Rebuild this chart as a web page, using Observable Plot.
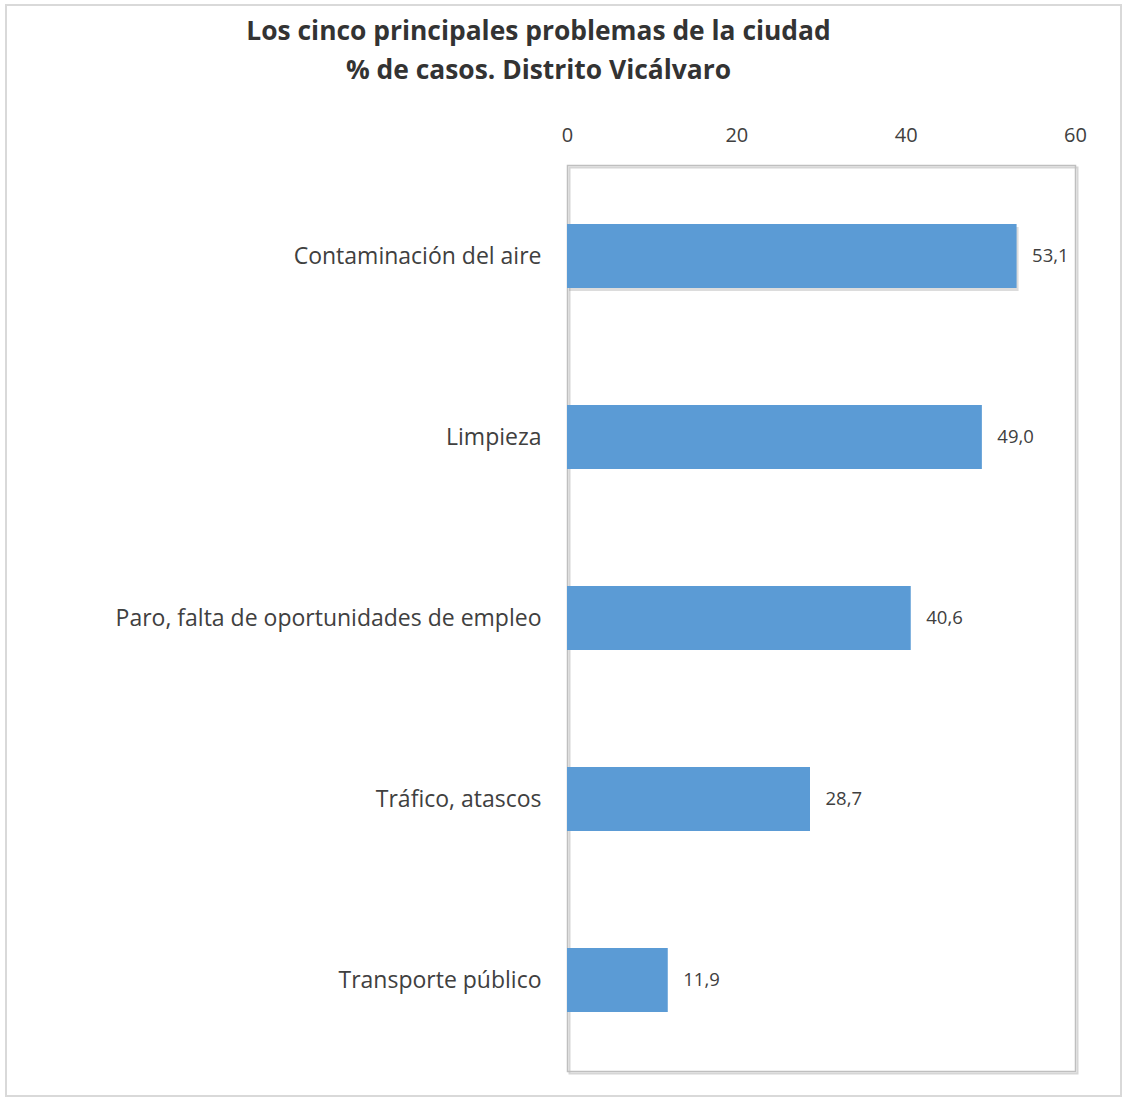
<!DOCTYPE html>
<html><head><meta charset="utf-8">
<script src="https://cdn.jsdelivr.net/npm/d3@7"></script>
<script src="https://cdn.jsdelivr.net/npm/@observablehq/plot@0.6"></script>
<style>
html,body{margin:0;padding:0;background:#fff;}
#wrap{position:relative;width:1127px;height:1103px;}
#border{position:absolute;left:5px;top:4px;width:1117px;height:1093px;border:2px solid #d9d9d9;box-sizing:border-box;}
#title{position:absolute;left:0;top:11px;width:1077px;text-align:center;font-family:"Open Sans",sans-serif;font-weight:bold;font-size:26.4px;line-height:39px;color:#333;}
#chart{position:absolute;left:0;top:100px;}
</style></head>
<body><div id="wrap"><div id="border"></div>
<div id="title">Los cinco principales problemas de la ciudad<br>% de casos. Distrito Vicálvaro</div>
<div id="chart"></div></div>
<script>
const categories = ["Contaminación del aire","Limpieza","Paro, falta de oportunidades de empleo","Tráfico, atascos","Transporte público"];
const values = [53.1, 49.0, 40.6, 28.7, 11.9];
const xTicks = [0, 20, 40, 60];
const data = categories.map((c,i)=>({cat:c, v:values[i]}));
const fmt = v => v.toFixed(1).replace(".", ",");
const plot = Plot.plot({
  width: 1127, height: 1003,
  marginLeft: 567, marginRight: 52, marginTop: 65, marginBottom: 32,
  style: {fontFamily: "'Open Sans', sans-serif", color: "#404040", background: "transparent"},
  x: {domain: [0, 60], axis: null},
  y: {domain: categories, paddingInner: 0.647, paddingOuter: 0.3235, axis: null},
  marks: [
    Plot.frame({stroke: "#d6d6d6", strokeWidth: 2, dx: 2, dy: 2}),
    Plot.frame({stroke: "#bfbfbf", strokeWidth: 1.5}),
    Plot.barX(data.slice(0,1), {x: "v", y: "cat", fill: "#9a9a9a", fillOpacity: 0.35, dx: 2, dy: 3}),
    Plot.barX(data, {x: "v", y: "cat", fill: "#5b9bd5"}),
    Plot.text(data, {x: "v", y: "cat", text: d => fmt(d.v), textAnchor: "start", dx: 15, fontSize: 18.5, fill: "#404040"}),
    Plot.axisX({anchor: "top", ticks: xTicks, tickSize: 0, tickPadding: 24, fontSize: 20, label: null}),
    Plot.axisY({tickSize: 0, tickPadding: 26, fontSize: 23, label: null})
  ]
});
document.getElementById("chart").appendChild(plot);
</script></body></html>
